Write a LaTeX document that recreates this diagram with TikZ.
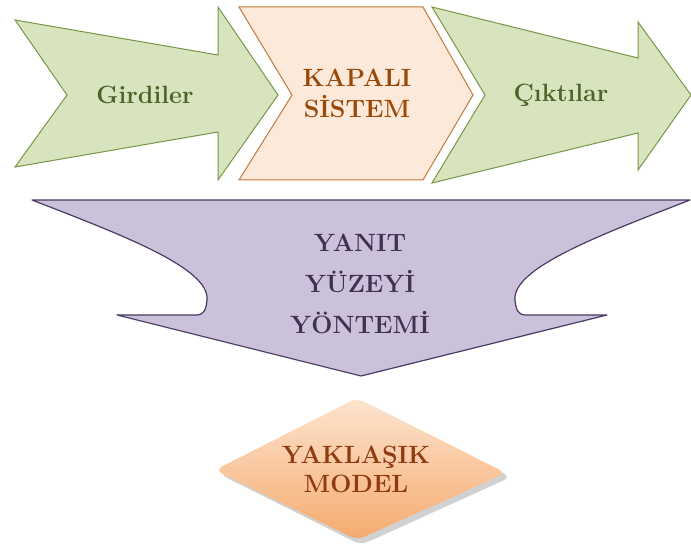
\documentclass[tikz,border=0pt]{standalone}
\usepackage{fontspec}
\usepackage{tikz}

\definecolor{greenfill}{HTML}{D7E4BD}
\definecolor{greenline}{HTML}{7A9548}
\definecolor{greentext}{HTML}{4F6228}
\definecolor{peachfill}{HTML}{FDE9D9}
\definecolor{peachline}{HTML}{C0783C}
\definecolor{browntext}{HTML}{984807}
\definecolor{lilacfill}{HTML}{CCC1DA}
\definecolor{lilacline}{HTML}{4A3B63}
\definecolor{lilactext}{HTML}{3F3151}
\definecolor{orangetop}{HTML}{FDE4CF}
\definecolor{orangebot}{HTML}{F5AA6E}
\definecolor{modeltext}{HTML}{8E3B12}

\tikzset{
    lbl/.style={font=\bfseries\addfontfeatures{FakeBold=1.2}\fontsize{25}{31}\selectfont,
        align=center, inner sep=0pt},
    greenarrow/.style={fill=greenfill, draw=greenline, line width=1pt, line join=miter},
}

\begin{document}
\begin{tikzpicture}[x=1pt, y=-1pt]

        \useasboundingbox (0,0) rectangle (691,545);

        % girdi ve cikti oklari
        \draw[greenarrow]
            (15,20) -- (218,55) -- (218,7) -- (278,95) -- (218,180)
            -- (218,132) -- (15,167) -- (67,95) -- cycle;

        \draw[greenarrow]
            (432,7) -- (638,58) -- (638,22) -- (691,95) -- (638,170)
            -- (638,133) -- (432,183) -- (485,95) -- cycle;

        % kapali sistem
        \draw[fill=peachfill, draw=peachline, line width=1pt]
            (239,7) -- (423,7) -- (473,95) -- (423,180) -- (239,180)
            -- (292,95) -- cycle;

        % yanit yuzeyi
        \draw[fill=lilacfill, draw=lilacline, line width=1.2pt, line join=round]
            (32,200) -- (690,200)
            .. controls (600,235) and (512,268) .. (515,300)
            .. controls (516,310) and (518,315) .. (526,315)
            -- (607,315) -- (361,376) -- (117,315) -- (196,315)
            .. controls (204,315) and (206,310) .. (207,300)
            .. controls (210,268) and (122,235) .. (32,200) -- cycle;

        % yaklasik model
        \fill[black, opacity=.18, rounded corners=8pt]
            (361,402) -- (511,477) -- (361,545) -- (219,474) -- cycle;
        \shade[top color=orangetop, bottom color=orangebot, rounded corners=8pt]
            (357,398) -- (506,473) -- (357,540) -- (215,470) -- cycle;

        \node[lbl, text=greentext] (girdiler) at (145,95) {Girdiler};
        \node[lbl, text=browntext] (kapali) at (357,93) {KAPALI\\SİSTEM};
        \node[lbl, text=greentext] (ciktilar) at (561,95) {Çıktılar};
        \node[lbl, text=lilactext, font=\bfseries\addfontfeatures{FakeBold=1.2}\fontsize{25}{41}\selectfont]
            (yanit) at (360,284) {YANIT\\YÜZEYİ\\YÖNTEMİ};
        \node[lbl, text=modeltext, font=\bfseries\addfontfeatures{FakeBold=1.2}\fontsize{25}{29}\selectfont]
            (model) at (356,469) {YAKLAŞIK\\MODEL};

\end{tikzpicture}
\end{document}
